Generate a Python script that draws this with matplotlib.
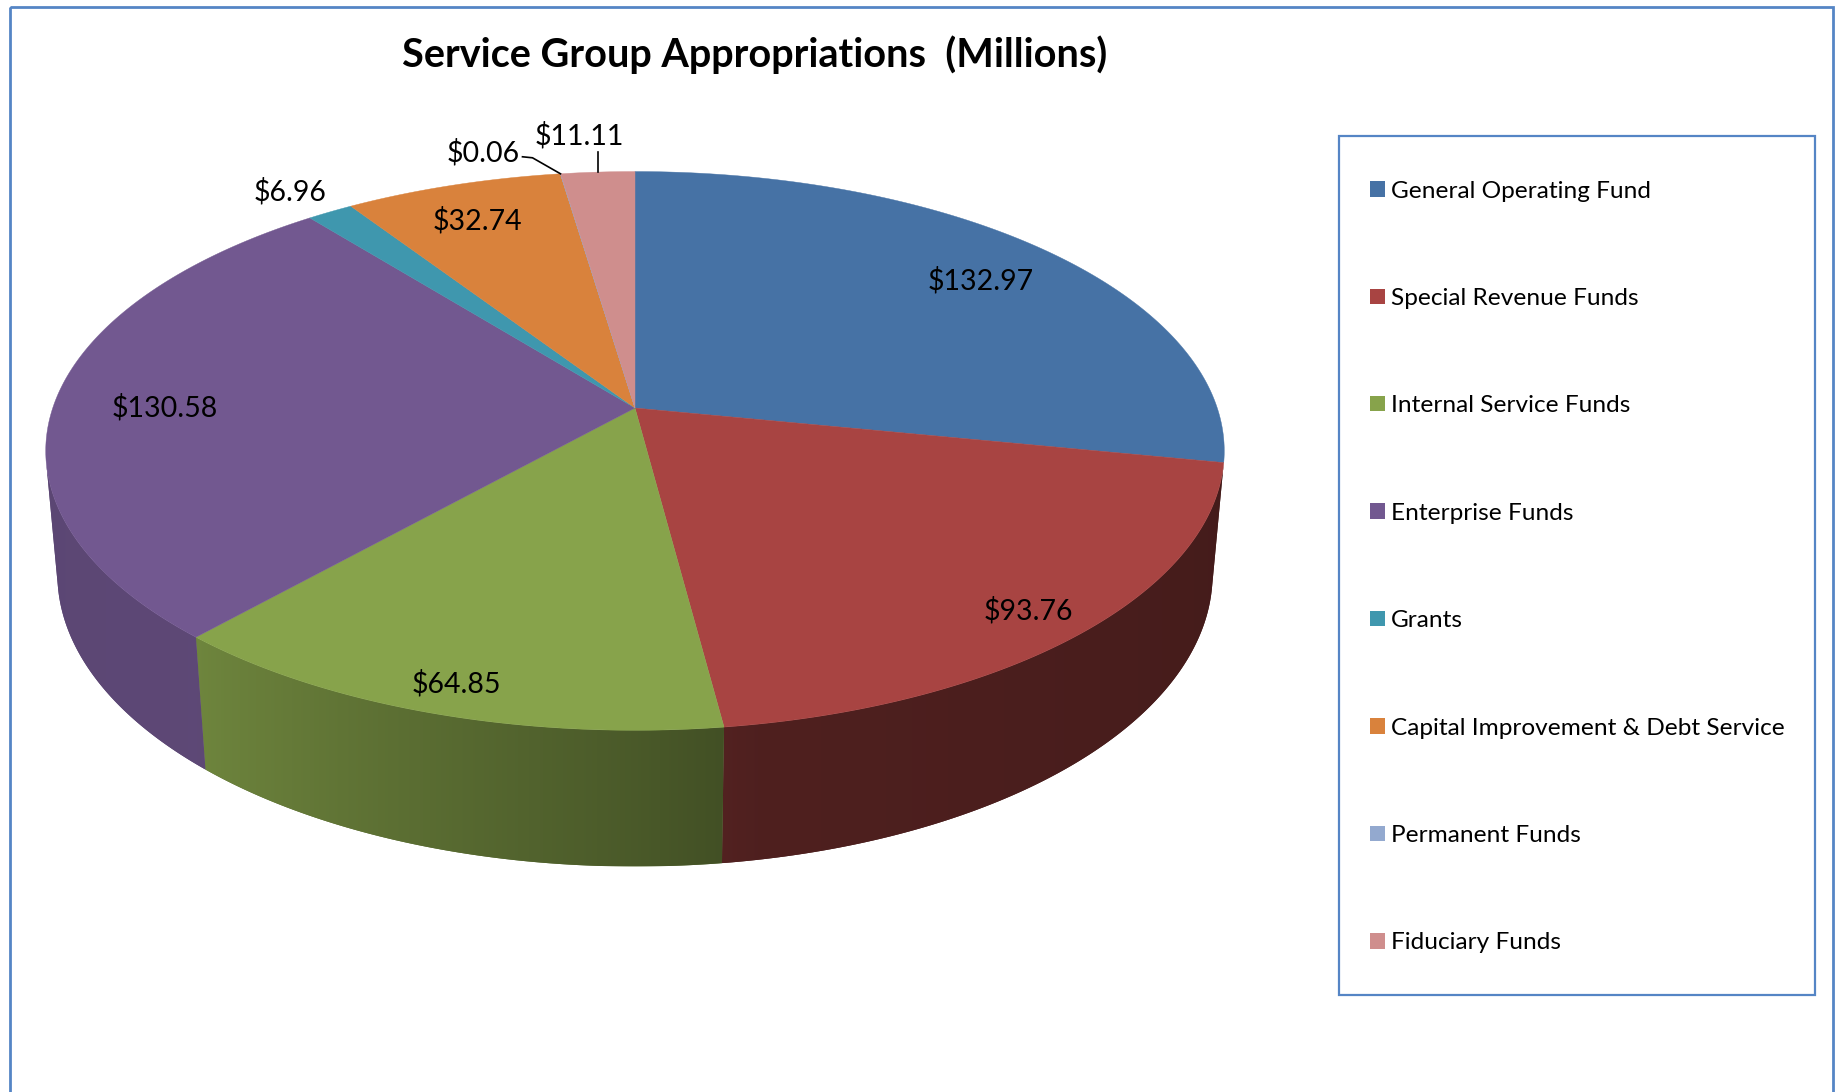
import numpy as np
import matplotlib.pyplot as plt
from matplotlib.patches import Polygon, Rectangle, Patch
from matplotlib.colors import to_rgb

# fund appropriations, millions of dollars
funds = ['General Operating Fund', 'Special Revenue Funds', 'Internal Service Funds',
         'Enterprise Funds', 'Grants', 'Capital Improvement & Debt Service',
         'Permanent Funds', 'Fiduciary Funds']
amounts = [132.97, 93.76, 64.85, 130.58, 6.96, 32.74, 0.06, 11.11]
colors = ['#4672a5', '#a84442', '#87a34b', '#725890', '#3f97ae', '#d9823c',
          '#93a9cf', '#cf8e8d']

# camera for the 3d pie (unit radius disc, pixels on screen)
cx, cy = 635., 408.
F = 3348.
D = 5.75
tilt = np.arcsin(0.4685)
c, s = np.cos(tilt), np.sin(tilt)
h = 0.2416

def project(r, theta, z=0.):
    # theta in degrees, clockwise from 12 o'clock (far side)
    t = np.radians(theta)
    x = r*np.sin(t)
    y = r*np.cos(t)
    depth = D + y*c - z*s
    return cx + F*x/depth, cy - F*(y*s + z*c)/depth

def wall_shade(theta):
    return np.interp(theta, [100, 170, 180, 222, 260], [0.40, 0.47, 0.55, 0.82, 0.80])

fig = plt.figure(figsize=(18.43, 10.92), dpi=100)
ax = fig.add_axes([0, 0, 1, 1])
ax.axis('off')
plt.rcParams['font.family'] = ['Lato', 'DejaVu Sans']

total = sum(amounts)
edges = np.concatenate([[0], np.cumsum(amounts)]) / total * 360.
sil = np.degrees(np.arccos(-1./(D*c)))   # visible side wall runs sil .. 360-sil

# side wall: horizontal gradient image clipped to each slice's wall
for i in range(len(amounts)):
    a0, a1 = max(edges[i], sil), min(edges[i+1], 360 - sil)
    if a1 <= a0:
        continue
    tt = np.linspace(a0, a1, 300)
    tx, ty = project(1, tt)
    bx, by = project(1, tt, -h)
    verts = list(zip(tx, ty)) + list(zip(bx[::-1], by[::-1]))
    base = np.array(to_rgb(colors[i]))
    wall = Polygon(verts, closed=True, facecolor=base*wall_shade(0.5*(a0 + a1)),
                   edgecolor='none', zorder=1)
    ax.add_patch(wall)
    x0, x1 = min(tx.min(), bx.min()), max(tx.max(), bx.max())
    y0, y1 = min(ty.min(), by.min()), max(ty.max(), by.max())
    xs = np.linspace(x0, x1, 400)
    th = np.interp(xs, tx[::-1], tt[::-1])
    img = (base[None, :]*wall_shade(th)[:, None])[None, :, :]
    im = ax.imshow(img, extent=(x0, x1, y1, y0), aspect='auto',
                   interpolation='bilinear', zorder=1.5)
    im.set_clip_path(wall)

# top faces
for i in range(len(amounts)):
    tt = np.linspace(edges[i], edges[i+1], 200)
    px, py = project(1, tt)
    pts = [(cx, cy)] + list(zip(px, py))
    ax.add_patch(Polygon(pts, closed=True, facecolor=colors[i], edgecolor=colors[i],
                         lw=0.3, zorder=2))

# data labels
mids = 0.5*(edges[:-1] + edges[1:])
label_r = [0.83, 0.89, 0.90, 0.81, 1.15, 0.85]
for i in range(6):
    lx, ly = project(label_r[i], mids[i])
    ax.text(lx, ly + 6, '$%.2f' % amounts[i], fontsize=20.5, ha='center', va='center',
            zorder=3)

# small slices get leader lines
ex, ey = project(1, mids[6])
ax.plot([ex, ex - 28, ex - 38], [ey, ey - 16, ey - 17], color='black', lw=1.2, zorder=3)
ax.text(ex - 41, ey - 21, '$%.2f' % amounts[6], fontsize=20.5, ha='right', va='center')
ex, ey = project(1, mids[7])
ax.plot([ex, ex], [ey, ey - 20], color='black', lw=1.2, zorder=3)
ax.text(ex - 18, ey - 36, '$%.2f' % amounts[7], fontsize=20.5, ha='center', va='center')

ax.text(755, 55, 'Service Group Appropriations  (Millions)', fontsize=28.5,
        fontweight='bold', ha='center', va='center')

# chart and legend frames
ax.add_patch(Rectangle((10, 7), 1823, 1100, fill=False, edgecolor='#5585c5', lw=2))
ax.add_patch(Rectangle((1339, 136), 476, 859, fill=False, edgecolor='#5585c5', lw=1.6))

handles = [Patch(facecolor=col, edgecolor='none', label=name) for name, col in zip(funds, colors)]
ax.legend(handles=handles, loc='upper left', bbox_to_anchor=(1370, 180.5),
          bbox_transform=ax.transData, frameon=False, fontsize=17.6, borderpad=0,
          borderaxespad=0, labelspacing=3.535, handlelength=0.6, handleheight=0.6,
          handletextpad=0.25)

ax.set_xlim(0, 1843)
ax.set_ylim(1092, 0)
fig.savefig('out.png', dpi=100)
